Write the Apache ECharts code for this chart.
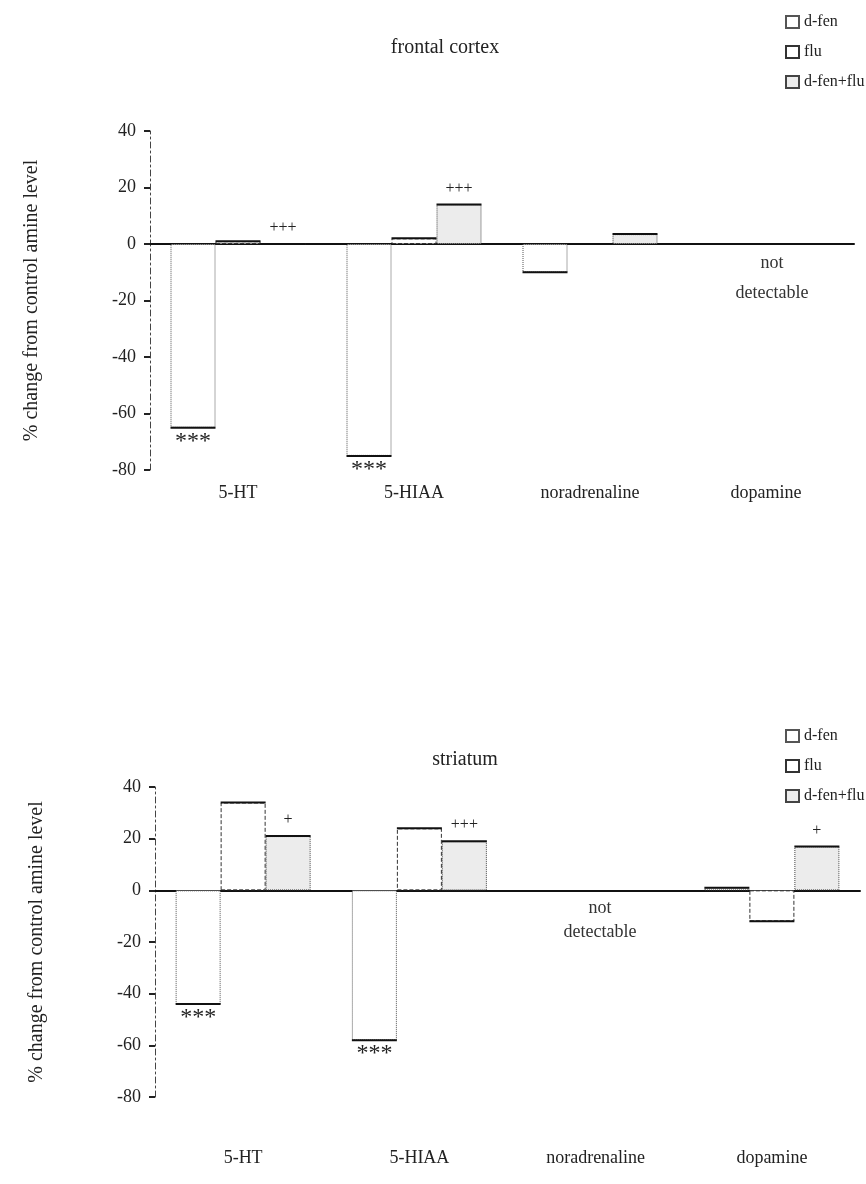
<!DOCTYPE html>
<html>
<head>
<meta charset="utf-8">
<script src="https://cdn.jsdelivr.net/npm/echarts@6/dist/echarts.min.js"></script>
<style>
  html, body { margin: 0; padding: 0; background: #fff; }
  #main { width: 866px; height: 1184px; }
</style>
</head>
<body>
<div id="main"></div>
<script>
// categories and values (% change from control)
const categories = ['5-HT', '5-HIAA', 'noradrenaline', 'dopamine']
const drugs = ['d-fen', 'flu', 'd-fen+flu']

const frontalDfen = [-65, -75, -10, null]
const frontalFlu = [1, 2, 0, null]
const frontalCombo = [0, 14, 3.5, null]

const striatumDfen = [-44, -58, null, 1]
const striatumFlu = [34, 24, null, -12]
const striatumCombo = [21, 19, null, 17]

const frontalDfenSig = ['***', '***', '', '']
const frontalComboSig = ['+++', '+++', '', '']
const striatumDfenSig = ['***', '***', '', '']
const striatumComboSig = ['+', '+++', '', '+']

const yTicks = { min: -80, max: 40, interval: 20 }

const FONT = 'Liberation Serif'
const BAR_W = 45

var myChart = echarts.init(document.getElementById('main'))

function barSeries(name, values, gridIdx, sig, style) {
  return {
    name: name,
    type: 'bar',
    xAxisIndex: gridIdx * 2,
    yAxisIndex: gridIdx,
    barWidth: BAR_W,
    barGap: '0%',
    data: values.map((v, i) => ({
      value: v,
      label: {
        show: !!(sig && sig[i]),
        position: v < 0 ? 'bottom' : 'top',
        distance: v < 0 ? 2 : 8,
        formatter: () => sig[i],
        fontFamily: FONT,
        fontSize: v < 0 ? 24 : 16,
        color: '#222'
      }
    })),
    itemStyle: style,
    emphasis: { disabled: true }
  }
}

// solid end line on each bar, like the printed figure
function capSeries(gridIdx, lists) {
  let data = []
  lists.forEach((list, s) => {
    list.forEach((v, i) => {
      if (v !== null) data.push([i, v, s])
    })
  })
  return {
    type: 'custom',
    xAxisIndex: gridIdx * 2,
    yAxisIndex: gridIdx,
    silent: true,
    z: 5,
    renderItem: function(params, api) {
      let p = api.coord([api.value(0), api.value(1)])
      let x = p[0] + (api.value(2) - 1) * BAR_W
      return {
        type: 'line',
        shape: { x1: x - BAR_W / 2, y1: p[1], x2: x + BAR_W / 2, y2: p[1] },
        style: { stroke: '#111', lineWidth: 2 }
      }
    },
    data: data
  }
}

const dfenStyle = { color: '#fff', borderColor: '#555', borderWidth: 1, borderType: 'dotted' }
const fluStyle = { color: '#fff', borderColor: '#333', borderWidth: 1, borderType: 'dashed' }
const comboStyle = { color: '#ececec', borderColor: '#444', borderWidth: 1, borderType: 'dotted' }

function yAxis(gridIdx) {
  return {
    type: 'value',
    gridIndex: gridIdx,
    min: yTicks.min,
    max: yTicks.max,
    interval: yTicks.interval,
    name: '% change from control amine level',
    nameLocation: 'middle',
    nameRotate: 90,
    nameGap: 108,
    nameTextStyle: { fontFamily: FONT, fontSize: 20, color: '#222' },
    axisLine: { show: true, lineStyle: { color: '#444', width: 1, type: [6, 3, 2, 3] } },
    axisTick: { show: true, length: 6, lineStyle: { color: '#222', width: 2 } },
    axisLabel: { fontFamily: FONT, fontSize: 18, color: '#222', margin: 14 },
    splitLine: { show: false }
  }
}

function xAxes(gridIdx, labelMargin) {
  return [{
    type: 'category',
    gridIndex: gridIdx,
    data: categories,
    axisLine: { onZero: true, lineStyle: { color: '#111', width: 2 } },
    axisTick: { show: false },
    axisLabel: { show: false }
  }, {
    type: 'category',
    gridIndex: gridIdx,
    data: categories,
    position: 'bottom',
    axisLine: { show: false, onZero: false },
    axisTick: { show: false },
    axisLabel: { fontFamily: FONT, fontSize: 18, color: '#222', margin: labelMargin }
  }]
}

function legend(top) {
  return {
    data: drugs.map(d => ({ name: d, icon: 'rect' })),
    orient: 'vertical',
    left: 780,
    top: top,
    itemWidth: 13,
    itemHeight: 12,
    itemGap: 14,
    textStyle: { fontFamily: FONT, fontSize: 16, color: '#222' },
    selectedMode: false
  }
}

var option = {
  backgroundColor: '#fff',
  animation: false,
  title: [
    { text: 'frontal cortex', left: 440, top: 33, textAlign: 'center',
      textStyle: { fontFamily: FONT, fontSize: 20, fontWeight: 'normal', color: '#222' } },
    { text: 'striatum', left: 460, top: 745, textAlign: 'center',
      textStyle: { fontFamily: FONT, fontSize: 20, fontWeight: 'normal', color: '#222' } }
  ],
  legend: [legend(9), legend(723)],
  grid: [
    { left: 150, top: 131, width: 704, height: 339 },
    { left: 155, top: 787, width: 705, height: 310 }
  ],
  xAxis: xAxes(0, 14).concat(xAxes(1, 52)),
  yAxis: [yAxis(0), yAxis(1)],
  graphic: [
    { type: 'text', x: 772, y: 248, style: { text: 'not\ndetectable', fontFamily: FONT, fontSize: 18, fill: '#333', align: 'center', lineHeight: 30 } },
    { type: 'text', x: 600, y: 896, style: { text: 'not\ndetectable', fontFamily: FONT, fontSize: 18, fill: '#333', align: 'center', lineHeight: 24 } }
  ],
  series: [
    barSeries('d-fen', frontalDfen, 0, frontalDfenSig, dfenStyle),
    barSeries('flu', frontalFlu, 0, null, fluStyle),
    barSeries('d-fen+flu', frontalCombo, 0, frontalComboSig, comboStyle),
    capSeries(0, [frontalDfen, frontalFlu, frontalCombo]),
    barSeries('d-fen', striatumDfen, 1, striatumDfenSig, dfenStyle),
    barSeries('flu', striatumFlu, 1, null, fluStyle),
    barSeries('d-fen+flu', striatumCombo, 1, striatumComboSig, comboStyle),
    capSeries(1, [striatumDfen, striatumFlu, striatumCombo])
  ]
}

myChart.setOption(option)
</script>
</body>
</html>
